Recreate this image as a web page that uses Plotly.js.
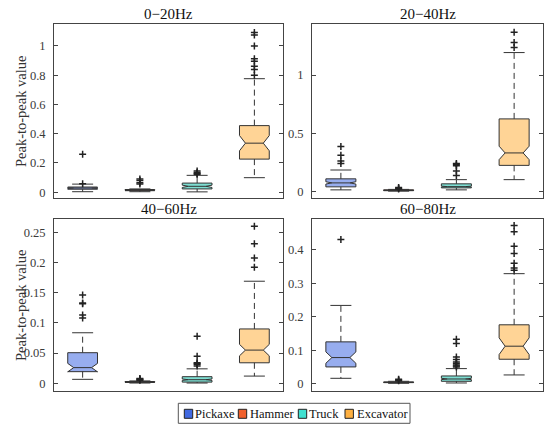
<!DOCTYPE html>
<html>
<head>
<meta charset="utf-8">
<script src="https://cdn.plot.ly/plotly-3.0.1.min.js"></script>
<style>html,body{margin:0;padding:0;background:#fff;}#chart{width:550px;height:431px;}</style>
</head>
<body>
<div id="chart"></div>
<script>
// ---- data ----
const categories = ['Pickaxe', 'Hammer', 'Truck', 'Excavator'];
const bands = ['0\u221220Hz', '20\u221240Hz', '40\u221260Hz', '60\u221280Hz'];
const yTickVals = [[0, 0.2, 0.4, 0.6, 0.8, 1], [0, 0.5, 1], [0, 0.05, 0.1, 0.15, 0.2, 0.25], [0, 0.1, 0.2, 0.3, 0.4]];
const yTickText = [['0', '0.2', '0.4', '0.6', '0.8', '1'], ['0', '0.5', '1'], ['0', '0.05', '0.1', '0.15', '0.2', '0.25'], ['0', '0.1', '0.2', '0.3', '0.4']];
const yRanges = [[-0.04, 1.15], [-0.058, 1.44], [-0.0127, 0.272], [-0.022, 0.4925]];
const yLabel = 'Peak-to-peak value';

// 0-20Hz
const b1_q1 = [0.020, 0.010, 0.022, 0.226];
const b1_med = [0.028, 0.013, 0.040, 0.335];
const b1_q3 = [0.035, 0.018, 0.062, 0.455];
const b1_lo = [0.003, 0.003, 0.002, 0.099];
const b1_hi = [0.055, 0.022, 0.115, 0.776];
const b1_notch = [0.003, 0.002, 0.008, 0.052];
const b1_out = [[0.058, 0.259], [0.055, 0.065, 0.08, 0.09], [0.122, 0.128, 0.135, 0.145], [0.80, 0.838, 0.861, 0.896, 0.912, 1.0, 1.074, 1.092]];

// 20-40Hz
const b2_q1 = [0.038, 0.005, 0.029, 0.223];
const b2_med = [0.072, 0.008, 0.040, 0.330];
const b2_q3 = [0.107, 0.012, 0.064, 0.623];
const b2_lo = [0.012, 0.001, 0.012, 0.100];
const b2_hi = [0.183, 0.016, 0.100, 1.194];
const b2_notch = [0.010, 0.001, 0.004, 0.058];
const b2_out = [[0.24, 0.26, 0.31, 0.385], [0.02, 0.025, 0.032], [0.136, 0.174, 0.22, 0.232, 0.24], [1.238, 1.28, 1.37]];

// 40-60Hz
const b3_q1 = [0.0193, 0.0015, 0.0020, 0.034];
const b3_med = [0.026, 0.0020, 0.0060, 0.055];
const b3_q3 = [0.0507, 0.0030, 0.0110, 0.090];
const b3_lo = [0.0066, 0.0005, 0.0005, 0.012];
const b3_hi = [0.0837, 0.0040, 0.024, 0.169];
const b3_notch = [0.007, 0.0003, 0.0012, 0.0095];
const b3_out = [[0.108, 0.113, 0.1316, 0.133, 0.146], [0.005, 0.006, 0.007, 0.008], [0.0286, 0.031, 0.033, 0.034, 0.045, 0.078], [0.192, 0.2076, 0.231, 0.26]];

// 60-80Hz
const b4_q1 = [0.050, 0.003, 0.007, 0.073];
const b4_med = [0.078, 0.004, 0.014, 0.112];
const b4_q3 = [0.125, 0.005, 0.023, 0.176];
const b4_lo = [0.016, 0.001, 0.002, 0.026];
const b4_hi = [0.234, 0.007, 0.045, 0.329];
const b4_notch = [0.017, 0.0005, 0.002, 0.025];
const b4_out = [[0.431], [0.009, 0.011, 0.013], [0.05, 0.053, 0.056, 0.06, 0.065, 0.072, 0.08, 0.12, 0.133], [0.339, 0.346, 0.36, 0.389, 0.411, 0.454, 0.473]];

// ---- styles ----
const legendColors = ['#4169e1', '#f0602c', '#40e0d0', '#ffb040'];
const faceColors = ['rgba(65,105,225,0.55)', 'rgba(240,96,44,0.6)', 'rgba(40,200,180,0.6)', 'rgba(255,176,64,0.55)'];
const FONT = '"Liberation Serif", "Times New Roman", Times, serif';
const EDGE = '#333333';

const panels = [
  {q1: b1_q1, med: b1_med, q3: b1_q3, lo: b1_lo, hi: b1_hi, notch: b1_notch, out: b1_out},
  {q1: b2_q1, med: b2_med, q3: b2_q3, lo: b2_lo, hi: b2_hi, notch: b2_notch, out: b2_out},
  {q1: b3_q1, med: b3_med, q3: b3_q3, lo: b3_lo, hi: b3_hi, notch: b3_notch, out: b3_out},
  {q1: b4_q1, med: b4_med, q3: b4_q3, lo: b4_lo, hi: b4_hi, notch: b4_notch, out: b4_out}
];

const traces = [];
panels.forEach((p, pi) => {
  const xa = pi === 0 ? 'x' : 'x' + (pi + 1);
  const ya = pi === 0 ? 'y' : 'y' + (pi + 1);
  const wx = [], wy = [], capx = [], capy = [];
  categories.forEach((c, ci) => {
    const xpos = ci + 1;
    wx.push(xpos, xpos, null, xpos, xpos, null);
    wy.push(p.q3[ci], p.hi[ci], null, p.q1[ci], p.lo[ci], null);
    capx.push(xpos, xpos);
    capy.push(p.hi[ci], p.lo[ci]);
  });
  traces.push({type: 'scatter', mode: 'lines', x: wx, y: wy, xaxis: xa, yaxis: ya,
    line: {color: EDGE, width: 1, dash: '6px,4px'}, showlegend: false, hoverinfo: 'skip'});
  traces.push({type: 'scatter', mode: 'markers', x: capx, y: capy, xaxis: xa, yaxis: ya,
    marker: {symbol: 'line-ew', size: 15, color: EDGE, line: {color: EDGE, width: 1}}, showlegend: false, hoverinfo: 'skip'});
  categories.forEach((c, ci) => {
    traces.push({
      type: 'box', name: c, x: [ci + 1], xaxis: xa, yaxis: ya,
      q1: [p.q1[ci]], median: [p.med[ci]], q3: [p.q3[ci]],
      lowerfence: [p.q1[ci]], upperfence: [p.q3[ci]],
      notched: true, notchspan: [p.notch[ci]], notchwidth: 0.2,
      width: 0.52, whiskerwidth: 0,
      fillcolor: faceColors[ci], line: {color: EDGE, width: 1},
      boxpoints: false, showlegend: false
    });
  });
  const ox = [], oy = [];
  p.out.forEach((arr, ci) => arr.forEach(v => { ox.push(ci + 1); oy.push(v); }));
  traces.push({type: 'scatter', mode: 'markers', x: ox, y: oy, xaxis: xa, yaxis: ya,
    marker: {symbol: 'cross-thin-open', size: 5, color: '#222', line: {color: '#222', width: 1.5}}, showlegend: false});
});

// ---- layout ----
const W = 550, H = 431;
const px = v => v / W, py = v => 1 - v / H;
const xDomains = [[px(54), px(283)], [px(312), px(543)], [px(54), px(283)], [px(312), px(543)]];
const yDomains = [[py(198), py(24)], [py(198), py(24)], [py(391), py(219)], [py(391), py(219)]];

const layout = {
  width: W, height: H,
  margin: {l: 0, r: 0, t: 0, b: 0},
  paper_bgcolor: '#fff', plot_bgcolor: '#fff',
  font: {family: FONT, size: 13, color: '#333'},
  showlegend: false,
  annotations: [], shapes: []
};
panels.forEach((p, pi) => {
  const sfx = pi === 0 ? '' : String(pi + 1);
  layout['xaxis' + sfx] = {
    domain: xDomains[pi], range: [0.5, 4.5], anchor: 'y' + sfx,
    showticklabels: false, ticks: '', showgrid: false, zeroline: false,
    showline: true, mirror: true, linecolor: '#444', linewidth: 1, fixedrange: true
  };
  layout['yaxis' + sfx] = {
    domain: yDomains[pi], range: yRanges[pi], anchor: 'x' + sfx,
    tickvals: yTickVals[pi], ticktext: yTickText[pi],
    ticks: 'inside', ticklen: 4, tickcolor: '#444', ticklabelstandoff: 5,
    tickfont: {family: FONT, size: 12.5, color: '#3a3a3a'},
    showgrid: false, zeroline: false,
    showline: true, mirror: 'ticks', linecolor: '#444', linewidth: 1, fixedrange: true
  };
  layout.annotations.push({
    text: bands[pi], xref: 'paper', yref: 'paper',
    x: (xDomains[pi][0] + xDomains[pi][1]) / 2, y: pi < 2 ? py(14) : py(209),
    xanchor: 'center', yanchor: 'middle', showarrow: false,
    font: {family: FONT, size: 15, color: '#111'}
  });
  if (pi % 2 === 0) {
    layout.annotations.push({
      text: yLabel, xref: 'paper', yref: 'paper', textangle: -90,
      x: px(21), y: (yDomains[pi][0] + yDomains[pi][1]) / 2,
      xanchor: 'center', yanchor: 'middle', showarrow: false,
      font: {family: FONT, size: 14.5, color: '#333'}
    });
  }
});

// manual legend
layout.shapes.push({type: 'rect', xref: 'paper', yref: 'paper', x0: px(178.3), x1: px(410), y0: py(423.3), y1: py(403.3),
  line: {color: '#555', width: 1}, fillcolor: '#fff'});
const legSq = [184.3, 238.3, 298.3, 345];
const legTx = [193, 247.5, 307, 354.5];
categories.forEach((c, ci) => {
  layout.shapes.push({type: 'rect', xref: 'paper', yref: 'paper', x0: px(legSq[ci]), x1: px(legSq[ci] + 8.4),
    y0: py(418.3), y1: py(409.3), line: {color: '#222', width: 1}, fillcolor: legendColors[ci]});
  layout.annotations.push({text: c, xref: 'paper', yref: 'paper', x: px(legTx[ci]), y: py(413.5),
    xanchor: 'left', yanchor: 'middle', showarrow: false, font: {family: FONT, size: 12.5, color: '#111'}});
});

Plotly.newPlot('chart', traces, layout, {displayModeBar: false, staticPlot: true});
</script>
</body>
</html>
